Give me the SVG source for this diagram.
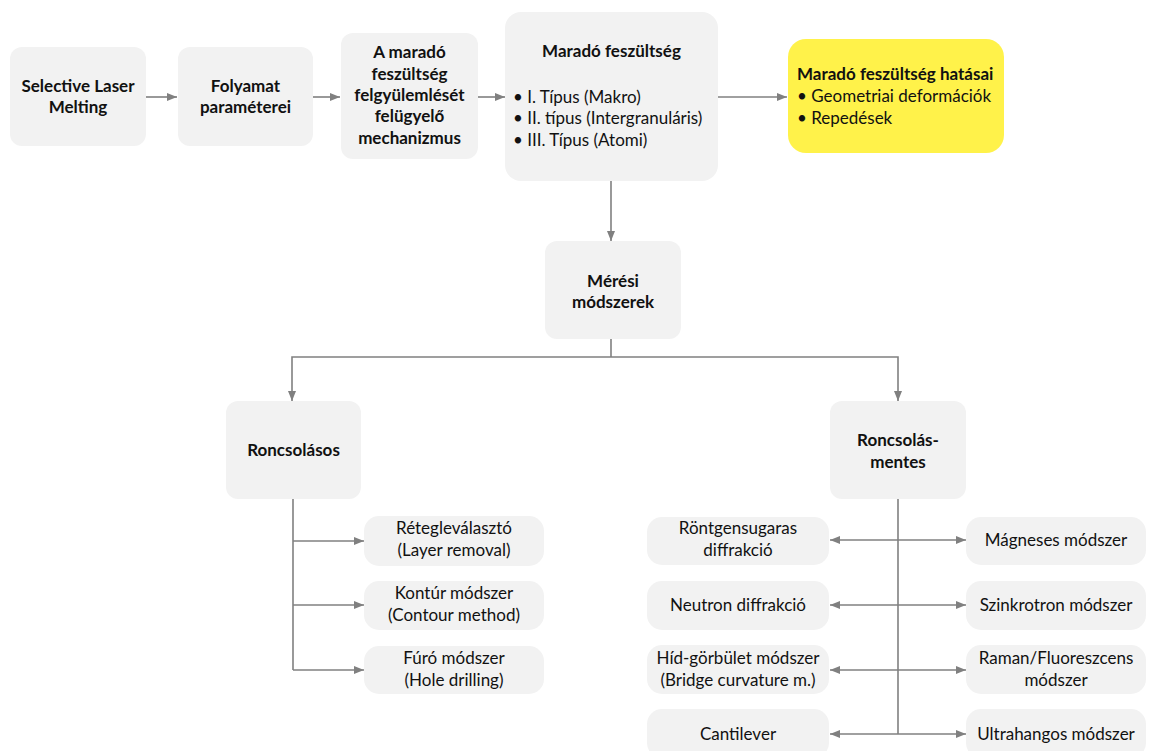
<svg xmlns="http://www.w3.org/2000/svg" width="1151" height="751" viewBox="0 0 1151 751">
<defs>
<style>
.box{fill:#f2f2f2;}
.yel{fill:#fff24a;}
text{font-family:Lato,"Liberation Sans",sans-serif;font-size:17px;fill:#111;}
.b{font-weight:bold;}
.c{text-anchor:middle;}
.ln{fill:none;stroke:#808080;stroke-width:1.6;}
</style>
<marker id="ah" viewBox="0 0 10 8" refX="10" refY="4" markerWidth="10" markerHeight="8" markerUnits="userSpaceOnUse" orient="auto-start-reverse">
<path d="M0,0 L10,4 L0,8 z" fill="#808080"/>
</marker>
</defs>
<rect width="1151" height="751" fill="#fff"/>
<g id="connectors">
<path class="ln" d="M146,97 H177" marker-end="url(#ah)"/>
<path class="ln" d="M313,97 H340" marker-end="url(#ah)"/>
<path class="ln" d="M478,97 H505" marker-end="url(#ah)"/>
<path class="ln" d="M718,97 H787" marker-end="url(#ah)"/>
<path class="ln" d="M611,181 V241" marker-end="url(#ah)"/>
<path class="ln" d="M611,339 V357"/>
<path class="ln" d="M611,357 H292 V401" marker-end="url(#ah)"/>
<path class="ln" d="M611,357 H898 V401" marker-end="url(#ah)"/>
<path class="ln" d="M293,499 V670"/>
<path class="ln" d="M293,541 H364" marker-end="url(#ah)"/>
<path class="ln" d="M293,605 H364" marker-end="url(#ah)"/>
<path class="ln" d="M293,670 H364" marker-end="url(#ah)"/>
<path class="ln" d="M898,499 V734"/>
<path class="ln" d="M830,540 H966" marker-start="url(#ah)" marker-end="url(#ah)"/>
<path class="ln" d="M830,605 H966" marker-start="url(#ah)" marker-end="url(#ah)"/>
<path class="ln" d="M830,670 H966" marker-start="url(#ah)" marker-end="url(#ah)"/>
<path class="ln" d="M830,734 H966" marker-start="url(#ah)" marker-end="url(#ah)"/>
</g>
<g id="slm"><rect class="box" x="10" y="47" width="136" height="99" rx="12"/>
<text class="b c" x="78" y="92">Selective Laser</text><text class="b c" x="78" y="113">Melting</text></g>
<g id="folyamat"><rect class="box" x="178" y="47" width="135" height="99" rx="12"/>
<text class="b c" x="245.5" y="92">Folyamat</text><text class="b c" x="245.5" y="113">paraméterei</text></g>
<g id="mechanizmus"><rect class="box" x="341" y="33" width="137" height="126" rx="12"/>
<text class="b c" x="409.5" y="58">A maradó</text><text class="b c" x="409.5" y="80">feszültség</text><text class="b c" x="409.5" y="101">felgyülemlését</text><text class="b c" x="409.5" y="122">felügyelő</text><text class="b c" x="409.5" y="144">mechanizmus</text></g>
<g id="maradofesz"><rect class="box" x="505" y="12" width="213" height="169" rx="16"/>
<text class="b c" x="611.5" y="57">Maradó feszültség</text>
<text x="513" y="103">• I. Típus (Makro)</text><text x="513" y="124">• II. típus (Intergranuláris)</text><text x="513" y="146">• III. Típus (Atomi)</text></g>
<g id="hatasai"><rect class="yel" x="788" y="39" width="216" height="114" rx="18"/>
<text class="b" x="797" y="80">Maradó feszültség hatásai</text>
<text x="797" y="102">• Geometriai deformációk</text><text x="797" y="124">• Repedések</text></g>
<g id="meresi"><rect class="box" x="545" y="241" width="136" height="98" rx="12"/>
<text class="b c" x="613" y="287">Mérési</text><text class="b c" x="613" y="308">módszerek</text></g>
<g id="roncsolasos"><rect class="box" x="226" y="401" width="135" height="98" rx="12"/>
<text class="b c" x="293.5" y="456">Roncsolásos</text></g>
<g id="roncsolasmentes"><rect class="box" x="830" y="401" width="136" height="98" rx="12"/>
<text class="b c" x="898" y="446">Roncsolás-</text><text class="b c" x="898" y="468">mentes</text></g>
<g id="reteg"><rect class="box" x="364" y="516" width="180" height="50" rx="15"/>
<text class="c" x="454" y="534">Rétegleválasztó</text><text class="c" x="454" y="556">(Layer removal)</text></g>
<g id="kontur"><rect class="box" x="364" y="581" width="180" height="49" rx="15"/>
<text class="c" x="454" y="599">Kontúr módszer</text><text class="c" x="454" y="621">(Contour method)</text></g>
<g id="furo"><rect class="box" x="364" y="646" width="180" height="48" rx="15"/>
<text class="c" x="454" y="664">Fúró módszer</text><text class="c" x="454" y="686">(Hole drilling)</text></g>
<g id="rontgen"><rect class="box" x="647" y="517" width="182" height="48" rx="15"/>
<text class="c" x="738" y="534">Röntgensugaras</text><text class="c" x="738" y="556">diffrakció</text></g>
<g id="neutron"><rect class="box" x="647" y="581" width="182" height="49" rx="15"/>
<text class="c" x="738" y="611">Neutron diffrakció</text></g>
<g id="hid"><rect class="box" x="647" y="645" width="182" height="49" rx="15"/>
<text class="c" x="738" y="664">Híd-görbület módszer</text><text class="c" x="738" y="686">(Bridge curvature m.)</text></g>
<g id="cantilever"><rect class="box" x="647" y="709" width="182" height="49" rx="15"/>
<text class="c" x="738" y="740">Cantilever</text></g>
<g id="magneses"><rect class="box" x="966" y="517" width="180" height="48" rx="15"/>
<text class="c" x="1056" y="546">Mágneses módszer</text></g>
<g id="szinkrotron"><rect class="box" x="966" y="581" width="180" height="49" rx="15"/>
<text class="c" x="1056" y="611">Szinkrotron módszer</text></g>
<g id="raman"><rect class="box" x="966" y="645" width="180" height="49" rx="15"/>
<text class="c" x="1056" y="664">Raman/Fluoreszcens</text><text class="c" x="1056" y="686">módszer</text></g>
<g id="ultrahang"><rect class="box" x="966" y="709" width="180" height="49" rx="15"/>
<text class="c" x="1056" y="740">Ultrahangos módszer</text></g>
</svg>
